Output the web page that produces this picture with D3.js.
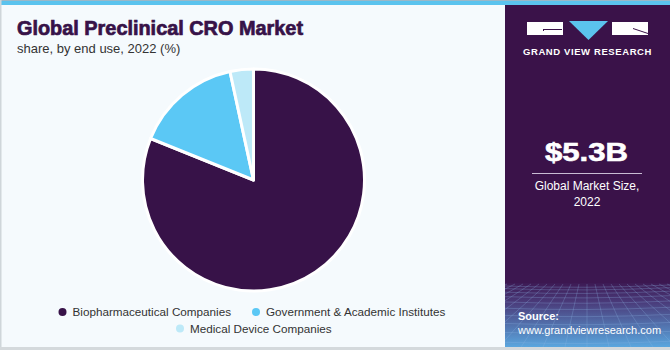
<!DOCTYPE html>
<html><head><meta charset="utf-8">
<script src="https://cdn.jsdelivr.net/npm/d3@7/dist/d3.min.js"></script>
<style>html,body{margin:0;padding:0;background:#f5fafd;}svg{display:block;}</style>
</head><body>
<svg id="c" width="670" height="350"></svg>
<script>
const categories = ["Biopharmaceutical Companies", "Government & Academic Institutes", "Medical Device Companies"];
const shares = [81.1, 15.5, 3.4];
const colors = ["#371248", "#5bc8f5", "#bde9f8"];

const svg = d3.select("#c");
const font = "'Liberation Sans', Arial, sans-serif";

// background
svg.append("rect").attr("width", 670).attr("height", 350).attr("fill", "#f5fafd");
svg.append("rect").attr("x", 0).attr("y", 0).attr("width", 670).attr("height", 5).attr("fill", "#5bc3ee");
svg.append("rect").attr("x", 0).attr("y", 0).attr("width", 670).attr("height", 1).attr("fill", "#9ab8c8");
svg.append("rect").attr("x", 0).attr("y", 0).attr("width", 1.5).attr("height", 350).attr("fill", "#cfd6da");
svg.append("rect").attr("x", 0).attr("y", 347).attr("width", 670).attr("height", 3).attr("fill", "#d4d9dc");

// side panel
const defs = svg.append("defs");
const g1 = defs.append("linearGradient").attr("id", "bot").attr("x1", 0).attr("y1", 0).attr("x2", 0).attr("y2", 1);
g1.append("stop").attr("offset", "0%").attr("stop-color", "#3d1a54");
g1.append("stop").attr("offset", "30%").attr("stop-color", "#4a3b7a");
g1.append("stop").attr("offset", "100%").attr("stop-color", "#5aa6de");
defs.append("clipPath").attr("id", "panelClip").append("rect")
  .attr("x", 505).attr("y", 283).attr("width", 165).attr("height", 64);
svg.append("rect").attr("x", 505).attr("y", 5).attr("width", 165).attr("height", 342).attr("fill", "#3a1249");
svg.append("rect").attr("x", 505).attr("y", 240).attr("width", 165).attr("height", 44).attr("fill", "#3e1a55").attr("opacity", 0.6);
svg.append("rect").attr("x", 505).attr("y", 283).attr("width", 165).attr("height", 64).attr("fill", "url(#bot)");
// grid pattern in bottom area
const grid = svg.append("g").attr("clip-path", "url(#panelClip)")
  .attr("stroke", "#8fb6e6").attr("stroke-opacity", 0.35).attr("stroke-width", 0.8).attr("fill", "none");
for (let i = 0; i < 14; i++) {
  const y = 286 + i * i * 0.45 + i * 2.2;
  if (y > 347) break;
  grid.append("path").attr("d", `M505,${y} Q587,${y + 3} 670,${y - 1}`);
}
for (let i = -12; i <= 12; i++) {
  const x0 = 587 + i * 8;
  const x1 = 587 + i * 22;
  grid.append("line").attr("x1", x0).attr("y1", 284).attr("x2", x1).attr("y2", 347);
}

// logo
const logo = svg.append("g");
logo.append("rect").attr("x", 527).attr("y", 22).attr("width", 36).attr("height", 13).attr("fill", "#ffffff");
logo.append("path").attr("d", "M543,31 L543,29 L562,29 L562,30 L544,30 L544,31 Z").attr("fill", "#3a1249");
logo.append("path").attr("d", "M569,21 L608,21 L588.5,40 Z").attr("fill", "#5bc3ee");
logo.append("rect").attr("x", 612).attr("y", 22).attr("width", 36).attr("height", 13).attr("fill", "#ffffff");
logo.append("path").attr("d", "M633,28 L648,33 L648,34 L633,29 Z").attr("fill", "#3a1249");
logo.append("text").attr("x", 587.5).attr("y", 55).attr("text-anchor", "middle")
  .attr("font-family", font).attr("font-weight", "bold").attr("font-size", 9.5)
  .attr("letter-spacing", 0.6).attr("fill", "#ffffff").text("GRAND VIEW RESEARCH");

// market size
svg.append("text").attr("x", 545).attr("y", 161)
  .attr("font-family", font).attr("font-weight", "bold").attr("font-size", 25).attr("fill", "#ffffff")
  .attr("stroke", "#ffffff").attr("stroke-width", 0.6)
  .attr("textLength", 83).attr("lengthAdjust", "spacingAndGlyphs").text("$5.3B");
svg.append("line").attr("x1", 532).attr("x2", 642).attr("y1", 173.5).attr("y2", 173.5).attr("stroke", "#c9bcd4").attr("stroke-width", 1);
svg.append("text").attr("x", 587).attr("y", 190).attr("text-anchor", "middle")
  .attr("font-family", font).attr("font-size", 12).attr("fill", "#ffffff").text("Global Market Size,");
svg.append("text").attr("x", 587).attr("y", 206).attr("text-anchor", "middle")
  .attr("font-family", font).attr("font-size", 12).attr("fill", "#ffffff").text("2022");

// source
svg.append("text").attr("x", 518).attr("y", 320).attr("font-family", font).attr("font-weight", "bold")
  .attr("font-size", 11).attr("fill", "#ffffff").text("Source:");
svg.append("text").attr("x", 518).attr("y", 334).attr("font-family", font)
  .attr("font-size", 11).attr("fill", "#ffffff").text("www.grandviewresearch.com");

// title
svg.append("text").attr("x", 17).attr("y", 35).attr("font-family", font).attr("font-weight", "bold")
  .attr("font-size", 20).attr("fill", "#371248").attr("stroke", "#371248").attr("stroke-width", 0.7)
  .attr("textLength", 286).attr("lengthAdjust", "spacingAndGlyphs").text("Global Preclinical CRO Market");
svg.append("text").attr("x", 17).attr("y", 53).attr("font-family", font)
  .attr("font-size", 13).attr("fill", "#333333").text("share, by end use, 2022 (%)");

// pie
const cx = 253.5, cy = 180, r = 111;
const pie = d3.pie().sort(null).value(d => d)(shares);
const arc = d3.arc().innerRadius(0).outerRadius(r);
svg.append("g").attr("transform", `translate(${cx},${cy})`)
  .selectAll("path").data(pie).join("path")
  .attr("d", arc).attr("fill", (d, i) => colors[i])
  .attr("stroke", "#ffffff").attr("stroke-width", 3).attr("stroke-linejoin", "round");

// legend
const legendPos = [[62.5, 312], [256, 312], [180, 328.5]];
const lg = svg.append("g");
categories.forEach((c, i) => {
  const [x, y] = legendPos[i];
  lg.append("circle").attr("cx", x).attr("cy", y).attr("r", 4).attr("fill", colors[i]);
  lg.append("text").attr("x", x + 10).attr("y", y + 4).attr("font-family", font)
    .attr("font-size", 11.7).attr("fill", "#333333").text(c);
});
</script>
</body></html>
